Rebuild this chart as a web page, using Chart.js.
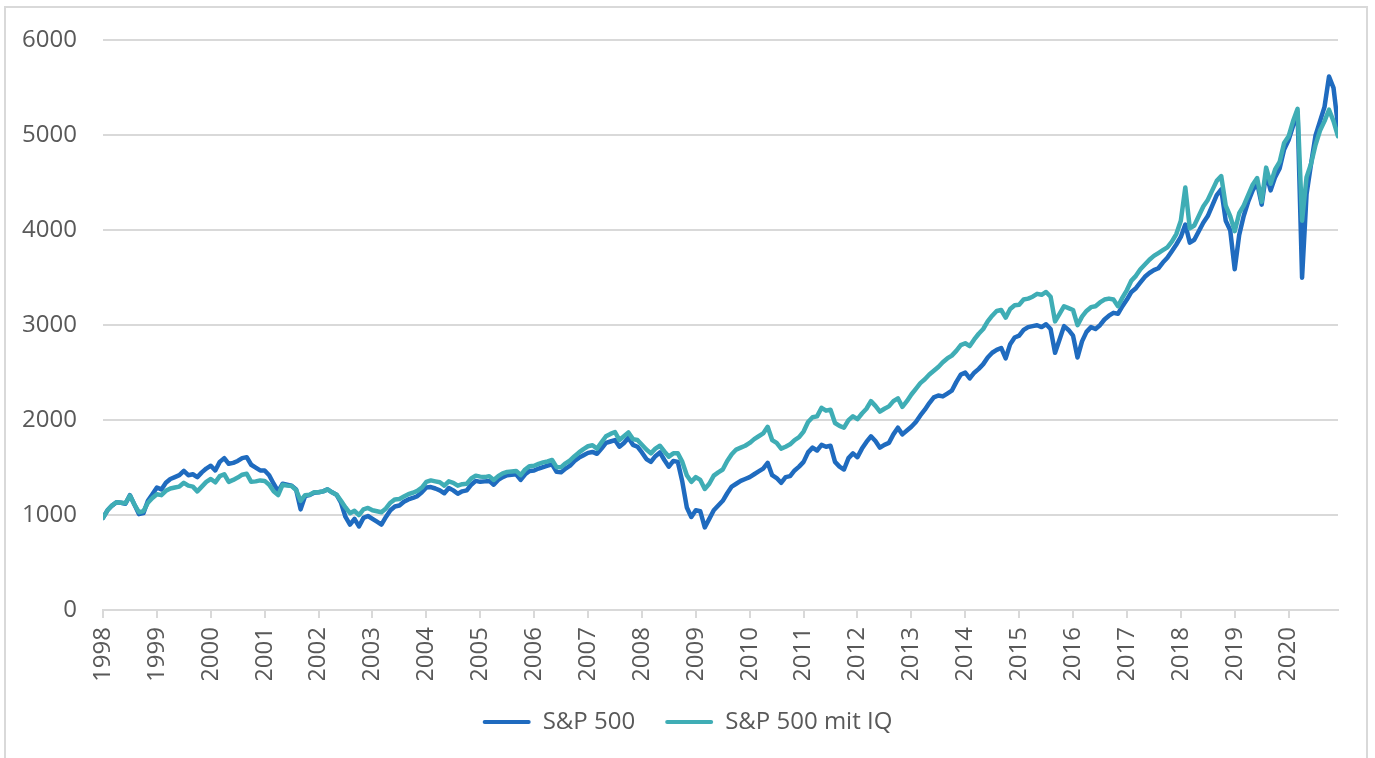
<!DOCTYPE html>
<html>
<head>
<meta charset="utf-8">
<script src="https://cdn.jsdelivr.net/npm/chart.js@4/dist/chart.umd.min.js"></script>
<style>
    html, body { margin: 0; padding: 0; background: #fff; }
    #frame {
        position: absolute; left: 4px; top: 6px; width: 1364px; height: 800px;
        box-sizing: border-box; border: 2px solid #d9d9d9;
    }
    #chart { position: absolute; left: 0; top: 0; }
</style>
</head>
<body>
<div id="frame"></div>
<canvas id="chart" width="1375" height="758"></canvas>
<script>
// monthly values, Jan 1998 .. Dec 2020 (12 per row)
const startYear = 1998;

const sp500 = [
    970, 1050, 1100, 1135, 1130, 1120, 1210, 1110, 1010, 1020, 1150, 1220,
    1290, 1270, 1340, 1380, 1400, 1420, 1465, 1420, 1430, 1400, 1450, 1490,
    1520, 1470, 1560, 1600, 1540, 1550, 1570, 1600, 1610, 1530, 1500, 1470,
    1470, 1420, 1330, 1250, 1330, 1320, 1310, 1270, 1060, 1200, 1210, 1235,
    1240, 1250, 1270, 1240, 1215, 1130, 980, 900, 960, 880, 970, 990,
    960, 930, 900, 980, 1050, 1090, 1100, 1140, 1165, 1180, 1200, 1240,
    1290, 1295, 1280, 1260, 1230, 1285, 1260, 1225, 1250, 1260, 1320, 1360,
    1350, 1355, 1360, 1320, 1370, 1400, 1420, 1425, 1430, 1370, 1430, 1465,
    1470, 1490, 1505, 1520, 1535, 1455, 1450, 1490, 1520, 1570, 1605, 1630,
    1655, 1665, 1645, 1700, 1760, 1775, 1790, 1720, 1760, 1815, 1740, 1720,
    1660, 1590, 1560, 1620, 1660, 1580, 1510, 1570, 1560, 1350, 1080, 980,
    1050, 1040, 870, 960, 1050, 1100, 1150, 1230, 1300, 1330, 1360, 1380,
    1400, 1430, 1460, 1490, 1550, 1420, 1390, 1340, 1400, 1410, 1470, 1510,
    1560, 1660, 1710, 1680, 1740, 1720, 1730, 1560, 1510, 1480, 1600, 1650,
    1610, 1700, 1770, 1830, 1780, 1710, 1740, 1760, 1850, 1920, 1850, 1890,
    1930, 1980, 2050, 2110, 2180, 2240, 2260, 2250, 2280, 2310, 2400, 2480,
    2500, 2440, 2500, 2540, 2590, 2660, 2710, 2740, 2760, 2650, 2800, 2870,
    2890, 2950, 2980, 2990, 3000, 2980, 3010, 2960, 2710, 2850, 2990, 2950,
    2890, 2660, 2830, 2930, 2980, 2960, 3000, 3060, 3100, 3130, 3120, 3200,
    3270, 3350, 3390, 3450, 3510, 3550, 3580, 3600, 3660, 3710, 3780, 3850,
    3930, 4060, 3870, 3900, 3990, 4080, 4150, 4260, 4370, 4430, 4100, 4000,
    3590, 3950, 4150, 4300, 4420, 4500, 4270, 4600, 4420, 4560, 4650, 4850,
    4950, 5100, 5240, 3500, 4380, 4700, 5000, 5150, 5300, 5620, 5500, 5100
];

const sp500IQ = [
    970, 1050, 1100, 1135, 1130, 1125, 1205, 1110, 1030, 1040, 1130, 1180,
    1220, 1210, 1255, 1280, 1290, 1300, 1340, 1310, 1300, 1250, 1300, 1350,
    1380, 1345, 1410, 1430, 1350, 1370, 1395, 1425, 1435, 1350, 1355, 1365,
    1360, 1320, 1250, 1210, 1320, 1310, 1305, 1265, 1150, 1210, 1215, 1240,
    1240, 1250, 1270, 1240, 1215, 1150, 1080, 1020, 1045, 1000, 1060, 1075,
    1050, 1040, 1030, 1070, 1130, 1165, 1170, 1195, 1220, 1235, 1255, 1290,
    1350, 1365, 1355, 1345, 1310, 1355, 1340, 1310, 1325, 1330, 1385, 1415,
    1405, 1400, 1410, 1370, 1410, 1440, 1455, 1460, 1465, 1420, 1480, 1515,
    1520, 1540, 1555, 1565, 1580, 1505, 1505, 1545, 1575, 1620, 1660, 1695,
    1725, 1735, 1700, 1765, 1830, 1855, 1875, 1790, 1830, 1870, 1800, 1790,
    1740, 1690, 1650, 1700, 1730, 1670, 1615, 1650, 1650, 1560, 1420, 1350,
    1400, 1370, 1275, 1330, 1415, 1450, 1480, 1570, 1640, 1690, 1710, 1730,
    1760, 1800, 1830, 1860, 1930, 1790, 1760, 1700, 1720, 1745, 1790, 1820,
    1880, 1980, 2030, 2040, 2130, 2100, 2110, 1970, 1940, 1920, 2000, 2040,
    2010, 2070, 2120, 2200, 2150, 2090, 2120, 2145, 2200, 2230, 2140, 2200,
    2270, 2330, 2390, 2430, 2480, 2520, 2560, 2610, 2650, 2680, 2730, 2790,
    2810, 2780, 2850, 2910, 2960, 3040, 3100, 3150, 3160, 3080, 3170, 3210,
    3215, 3270, 3280, 3300, 3330, 3320, 3350, 3300, 3040, 3120, 3200, 3180,
    3160, 3000, 3090, 3150, 3190, 3200, 3240, 3270, 3280, 3270, 3200, 3290,
    3370, 3470, 3520, 3590, 3640, 3690, 3730, 3760, 3790, 3820, 3880, 3960,
    4100, 4450, 4020, 4050, 4150, 4250, 4320, 4420, 4520, 4570, 4260, 4150,
    3990, 4180, 4260, 4370, 4480, 4550, 4300, 4660, 4490, 4640, 4720, 4920,
    4990, 5150, 5280, 4100, 4560, 4700, 4900, 5050, 5150, 5270, 5150, 4990
];

const seriesNames = ['S&P 500', 'S&P 500 mit IQ'];
const colors = ['#1f6bbf', '#3fadb5'];

const toPoints = values => values.map((v, i) => ({ x: startYear + i / 12, y: v }));
const lastX = startYear + (sp500.length - 1) / 12;

Chart.defaults.font.family = "'Open Sans', sans-serif";
Chart.defaults.font.size = 24;
Chart.defaults.color = '#595959';

const line = (label, values, color) => ({
    label,
    data: toPoints(values),
    borderColor: color,
    backgroundColor: color,
    borderWidth: 4.5,
    pointRadius: 0,
    tension: 0,
    borderJoinStyle: 'round',
    borderCapStyle: 'round'
});

new Chart(document.getElementById('chart'), {
    type: 'line',
    data: {
        // teal first so it is painted on top, legend reversed below
        datasets: [
            line(seriesNames[1], sp500IQ, colors[1]),
            line(seriesNames[0], sp500, colors[0])
        ]
    },
    options: {
        responsive: false,
        animation: false,
        layout: { padding: { left: 0, right: 0, top: 37, bottom: 14 } },
        scales: {
            x: {
                type: 'linear',
                min: startYear,
                max: lastX,
                grid: { drawOnChartArea: false, drawTicks: true, tickLength: 8, color: '#d9d9d9', lineWidth: 2 },
                border: { display: true, color: '#d9d9d9', width: 2 },
                ticks: {
                    stepSize: 1,
                    includeBounds: false,
                    autoSkip: false,
                    minRotation: 90,
                    maxRotation: 90,
                    padding: 9,
                    callback: v => String(v)
                },
                afterFit: s => { s.height = 70; }
            },
            y: {
                min: 0,
                max: 6000,
                grid: { color: '#d9d9d9', lineWidth: 2, drawTicks: false },
                border: { display: false },
                ticks: { stepSize: 1000, padding: 26, callback: v => String(v) },
                afterFit: s => { s.width = 103; }
            },
            pad: {
                position: 'right',
                grid: { display: false, drawTicks: false },
                border: { display: false },
                ticks: { display: false },
                afterFit: s => { s.width = 37; }
            }
        },
        plugins: {
            tooltip: { enabled: false },
            legend: {
                position: 'bottom',
                reverse: true,
                labels: {
                    boxWidth: 48,
                    boxHeight: 4,
                    padding: 30,
                    useBorderRadius: true,
                    borderRadius: 2,
                    generateLabels: chart =>
                        Chart.defaults.plugins.legend.labels.generateLabels(chart)
                            .map(item => ({ ...item, lineWidth: 0 }))
                }
            }
        }
    }
});
</script>
</body>
</html>
